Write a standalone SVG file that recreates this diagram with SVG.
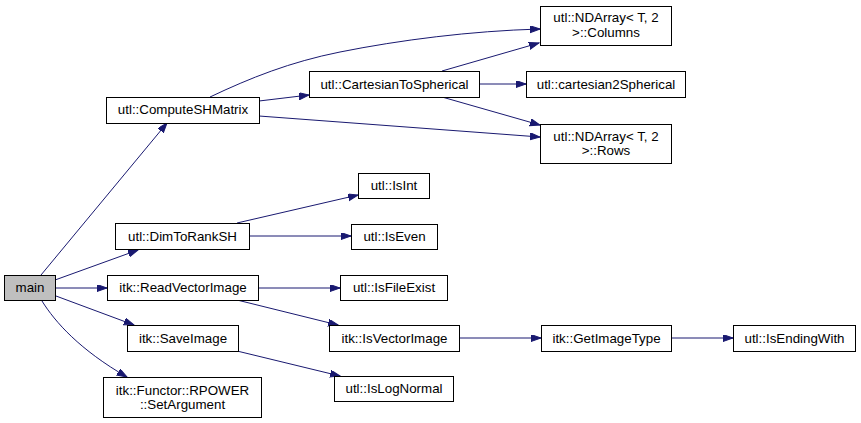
<svg xmlns="http://www.w3.org/2000/svg" width="861" height="423" viewBox="0 0 861 423">
<style>
.n rect{fill:#ffffff;stroke:#000000;stroke-width:1}
.n text{font-family:"Liberation Sans",Arial,sans-serif;font-size:13.33px;fill:#000000;text-anchor:middle}
#main rect{fill:#bfbfbf}
.e path{fill:none;stroke:#191970;stroke-width:1;marker-end:url(#ah)}
</style>
<defs>
<marker id="ah" markerUnits="userSpaceOnUse" markerWidth="11" markerHeight="8" refX="10" refY="3.5" orient="auto">
<path d="M0,0 L10,3.5 L0,7 z" fill="#191970" stroke="#191970" stroke-width="1"/>
</marker>
</defs>
<rect width="861" height="423" fill="#ffffff"/>
<g class="e" id="edges">
<path d="M41,275 L167,123"/>
<path d="M55,280 L138,250"/>
<path d="M55,288 L107,288"/>
<path d="M56,296 L134,325"/>
<path d="M42,301 C55,322 80,350 127,377"/>
<path d="M210,97 C250,78 290,62 340,52 C400,40 470,31 540,29"/>
<path d="M259,101 L309,95"/>
<path d="M259,116 L540,137"/>
<path d="M442,71 L539,43"/>
<path d="M479,84 L526,84"/>
<path d="M442,97 L540,125"/>
<path d="M237,223 L358,195"/>
<path d="M249,236 L351,236"/>
<path d="M258,288 L340,288"/>
<path d="M237,300 L338,325"/>
<path d="M237,351 L340,376"/>
<path d="M459,338 L541,338"/>
<path d="M671,338 L733,338"/>
</g>
<g class="n" id="main"><rect x="4.5" y="275.5" width="51" height="25"/><text x="30" y="292">main</text></g>
<g class="n" id="computeSHMatrix"><rect x="106.5" y="97.5" width="153" height="26"/><text x="183" y="114">utl::ComputeSHMatrix</text></g>
<g class="n" id="dimToRankSH"><rect x="115.5" y="223.5" width="134" height="26"/><text x="182.5" y="240.5">utl::DimToRankSH</text></g>
<g class="n" id="readVectorImage"><rect x="107.5" y="275.5" width="151" height="25"/><text x="183" y="292">itk::ReadVectorImage</text></g>
<g class="n" id="saveImage"><rect x="127.5" y="325.5" width="111" height="26"/><text x="183" y="342.5">itk::SaveImage</text></g>
<g class="n" id="setArgument"><rect x="103.5" y="377.5" width="158" height="40"/><text x="182.5" y="394.5">itk::Functor::RPOWER</text><text x="182.5" y="408.5">::SetArgument</text></g>
<g class="n" id="cartesianToSpherical"><rect x="309.5" y="71.5" width="170" height="26"/><text x="394.5" y="88.5">utl::CartesianToSpherical</text></g>
<g class="n" id="columns"><rect x="540.5" y="6.5" width="131" height="39"/><text x="606" y="22">utl::NDArray&lt; T, 2</text><text x="606" y="37">&gt;::Columns</text></g>
<g class="n" id="cartesian2Spherical"><rect x="526.5" y="71.5" width="159" height="26"/><text x="606" y="88.5">utl::cartesian2Spherical</text></g>
<g class="n" id="rows"><rect x="540.5" y="124.5" width="131" height="39"/><text x="606" y="140.5">utl::NDArray&lt; T, 2</text><text x="606" y="155">&gt;::Rows</text></g>
<g class="n" id="isInt"><rect x="358.5" y="173.5" width="71" height="25"/><text x="394" y="190">utl::IsInt</text></g>
<g class="n" id="isEven"><rect x="351.5" y="224.5" width="86" height="25"/><text x="394.5" y="241">utl::IsEven</text></g>
<g class="n" id="isFileExist"><rect x="340.5" y="275.5" width="107" height="25"/><text x="394" y="292">utl::IsFileExist</text></g>
<g class="n" id="isVectorImage"><rect x="329.5" y="325.5" width="130" height="26"/><text x="394.5" y="342.5">itk::IsVectorImage</text></g>
<g class="n" id="isLogNormal"><rect x="334.5" y="376.5" width="119" height="25"/><text x="394" y="393">utl::IsLogNormal</text></g>
<g class="n" id="getImageType"><rect x="541.5" y="325.5" width="130" height="26"/><text x="606.5" y="342.5">itk::GetImageType</text></g>
<g class="n" id="isEndingWith"><rect x="733.5" y="325.5" width="122" height="26"/><text x="794.5" y="342.5">utl::IsEndingWith</text></g>
</svg>
